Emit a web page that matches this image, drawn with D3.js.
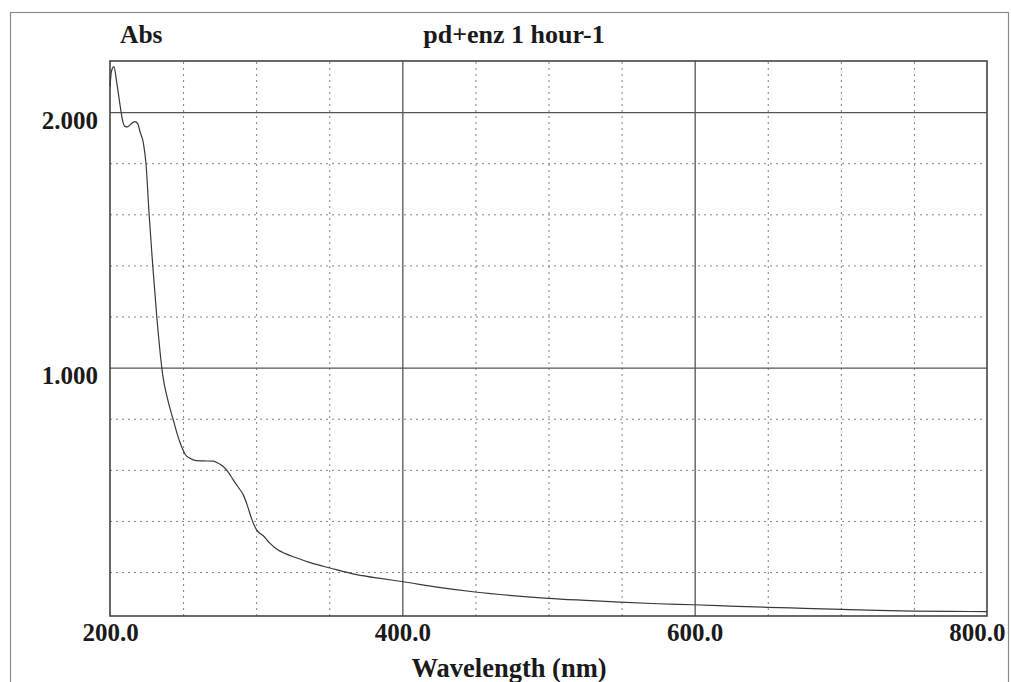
<!DOCTYPE html>
<html>
<head>
<meta charset="utf-8">
<script src="https://cdn.jsdelivr.net/npm/d3@7"></script>
<style>
  html, body { margin: 0; padding: 0; background: #fff; }
  svg { display: block; }
  .lbl { font-family: "Liberation Serif", "Times New Roman", serif; font-weight: bold; fill: #1a1a1a; }
</style>
</head>
<body>
<svg id="chart" width="1011" height="682"></svg>
<script>
// UV-Vis absorption spectrum, sample "pd+enz 1 hour-1"
const wavelength = [200, 201, 202.7, 204.5, 206.8, 208.5, 210.3, 212, 214, 217, 219, 220.5, 222.8, 224.6,
  226.7, 229.2, 232, 236.1, 239.5, 243.3, 246, 249, 251.5, 254.7, 259, 264, 270.7, 274, 277.5, 281,
  284.4, 288, 291.2, 294, 296.8, 298.5, 300.3, 302.5, 304.9, 309, 314, 320, 327.8, 338, 350.5, 368.8,
  385, 400.7, 425, 449.7, 475, 500, 525, 549, 575, 599, 624, 650, 675, 700.6, 725, 749.6, 775, 800];
const absorbance = [2.10, 2.16, 2.178, 2.12, 2.03, 1.97, 1.944, 1.942, 1.952, 1.963, 1.955, 1.924, 1.88, 1.80,
  1.605, 1.402, 1.20, 0.97, 0.875, 0.795, 0.74, 0.69, 0.66, 0.645, 0.636, 0.635, 0.634, 0.626, 0.613, 0.59,
  0.56, 0.53, 0.502, 0.46, 0.41, 0.385, 0.365, 0.352, 0.342, 0.315, 0.29, 0.272, 0.255, 0.235, 0.216, 0.19,
  0.175, 0.162, 0.14, 0.122, 0.108, 0.097, 0.089, 0.082, 0.076, 0.072, 0.067, 0.062, 0.058, 0.054,
  0.05, 0.047, 0.046, 0.045];

const xTickLabels = [200, 400, 600, 800];
const yTickLabels = [1, 2];
const xGrid = d3.range(250, 800, 50);
const yGrid = d3.range(0.2, 2.01, 0.2).map(v => +v.toFixed(1));
const xMajor = [400, 600];
const yMajor = [1, 2];

const title = "pd+enz 1 hour-1";
const yTitle = "Abs";
const xTitle = "Wavelength (nm)";

const svg = d3.select("#chart");
const plot = { left: 110, right: 987, top: 61, bottom: 616 };

const x = d3.scaleLinear().domain([200, 800]).range([plot.left, plot.right]);
const y = d3.scaleLinear().domain([0.028, 2.2]).range([plot.bottom, plot.top]);

// outer page frame
svg.append("rect")
  .attr("x", 10.5).attr("y", 12.5).attr("width", 998).attr("height", 690)
  .attr("fill", "none").attr("stroke", "#8a8a8a").attr("stroke-width", 1.2);

// dotted grid, with solid lines at the major values
const gridStyle = g => g.selectAll("line")
  .attr("stroke", d => (xMajor.includes(d) || yMajor.includes(d)) ? "#555" : "#808080")
  .attr("stroke-width", d => (xMajor.includes(d) || yMajor.includes(d)) ? 1.3 : 1)
  .attr("stroke-dasharray", d => (xMajor.includes(d) || yMajor.includes(d)) ? null : "2,4");

svg.append("g")
  .attr("transform", `translate(0,${plot.bottom})`)
  .call(d3.axisBottom(x).tickValues(xGrid).tickSize(-(plot.bottom - plot.top)).tickFormat(""))
  .call(g => g.select(".domain").remove())
  .call(gridStyle);

svg.append("g")
  .attr("transform", `translate(${plot.left},0)`)
  .call(d3.axisLeft(y).tickValues(yGrid).tickSize(-(plot.right - plot.left)).tickFormat(""))
  .call(g => g.select(".domain").remove())
  .call(gridStyle);

// plot frame
svg.append("rect")
  .attr("x", plot.left).attr("y", plot.top)
  .attr("width", plot.right - plot.left).attr("height", plot.bottom - plot.top)
  .attr("fill", "none").attr("stroke", "#444").attr("stroke-width", 1.6);

// spectrum
const line = d3.line().x((d, i) => x(wavelength[i])).y(d => y(d)).curve(d3.curveMonotoneX);
svg.append("path")
  .datum(absorbance)
  .attr("d", line)
  .attr("fill", "none")
  .attr("stroke", "#3a3a3a")
  .attr("stroke-width", 1.2);

// axis labels
const xAxis = svg.append("g")
  .attr("transform", `translate(0,${plot.bottom})`)
  .call(d3.axisBottom(x).tickValues(xTickLabels).tickSize(0).tickPadding(25).tickFormat(d3.format(".1f")));
xAxis.select(".domain").remove();
xAxis.selectAll("text").attr("class", "lbl").attr("font-size", 25).attr("dy", 0)
  .attr("text-anchor", d => d === 800 ? "end" : "middle")
  .attr("x", d => d === 800 ? 1005 - x(800) : 0);

const yAxis = svg.append("g")
  .attr("transform", `translate(${plot.left},0)`)
  .call(d3.axisLeft(y).tickValues(yTickLabels).tickSize(0).tickPadding(12).tickFormat(d3.format(".3f")));
yAxis.select(".domain").remove();
yAxis.selectAll("text").attr("class", "lbl").attr("font-size", 25).attr("dy", 16);

svg.append("text").attr("class", "lbl").attr("font-size", 25.5)
  .attr("x", 120).attr("y", 43).text(yTitle);
svg.append("text").attr("class", "lbl").attr("font-size", 26)
  .attr("x", 514).attr("y", 43).attr("text-anchor", "middle").text(title);
svg.append("text").attr("class", "lbl").attr("font-size", 26.5)
  .attr("x", 509).attr("y", 677).attr("text-anchor", "middle").text(xTitle);
</script>
</body>
</html>
